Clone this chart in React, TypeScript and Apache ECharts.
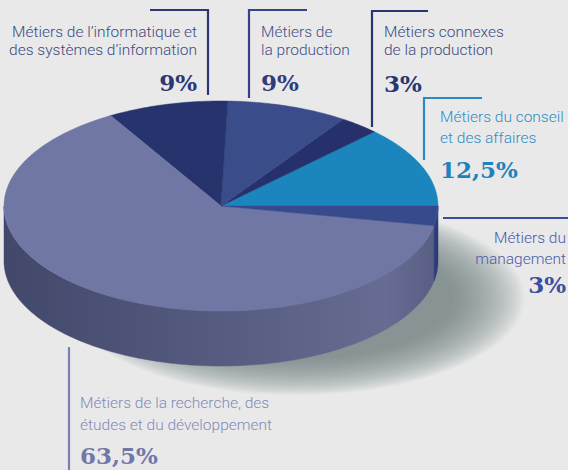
import React, { useEffect, useRef } from 'react';
import * as echarts from 'echarts';

// ---- data ----
const categories = [
  'Métiers du conseil\net des affaires',
  'Métiers connexes\nde la production',
  'Métiers de\nla production',
  'Métiers de l’informatique et\ndes systèmes d’information',
  'Métiers de la recherche, des\nétudes et du développement',
  'Métiers du\nmanagement',
];
const values = [12.5, 3, 9, 9, 63.5, 3];
const percentLabels = ['12,5%', '3%', '9%', '9%', '63,5%', '3%'];

// ---- styles ----
const topColors = ['#1b86bd', '#26316b', '#3a4c8a', '#27336d', '#7177a5', '#364a8c'];
const sideGradient = {
  type: 'linear', x: 3, y: 0, x2: 438, y2: 0, global: true,
  colorStops: [
    { offset: 0, color: '#42486a' },
    { offset: 0.5, color: '#565c80' },
    { offset: 0.88, color: '#676c92' },
    { offset: 1, color: '#585d84' },
  ],
};
const sideColors: any[] = ['#15668f', '#1d2655', '#2c3a70', '#1d2757', sideGradient, '#2c3b7a'];

const CX = 221, CY = 206, RX = 217, RY = 105, DEPTH = 55;

const labelLayout = [
  { x: 440, align: 'left', lines: [122, 143], pct: 176, color: '#2f8cc6', pctColor: '#1e83bd', bracket: [[482, 98], [424, 98], [424, 160]], lineColor: '#2a8ac4' },
  { x: 384, align: 'left', lines: [37, 55], pct: 90, color: '#3b4a82', pctColor: '#283570', bracket: [[428, 11], [372, 11], [372, 127]], lineColor: '#283570' },
  { x: 261, align: 'left', lines: [37, 55], pct: 89, color: '#3d4f8c', pctColor: '#2f3d7a', bracket: [[307, 10], [249, 10], [249, 98]], lineColor: '#34448a' },
  { x: 197, align: 'right', lines: [37, 55], pct: 89, color: '#3b4a82', pctColor: '#2b3773', bracket: [[150, 10], [208, 10], [208, 95]], lineColor: '#2b3773' },
  { x: 80, align: 'left', lines: [408, 430], pct: 462, color: '#8389b9', pctColor: '#7177a8', bracket: [[69, 347], [69, 470]], lineColor: '#7a80b3' },
  { x: 566, align: 'right', lines: [243, 264], pct: 291, color: '#4a5aa8', pctColor: '#3c4ea0', bracket: [[443, 218], [568, 218]], lineColor: '#3a4d9c' },
];

const SANS = '300 15.5px Roboto, "Liberation Sans", sans-serif';
const SERIF = 'bold 23px "DejaVu Serif", serif';

function buildGraphics() {
  const els: any[] = [];
  // soft shadow built from stacked translucent ellipses
  const RINGS = 22;
  for (let k = 0; k < RINGS; k++) {
    const t = k / (RINGS - 1);
    els.push({
      type: 'ellipse', z: 0, silent: true,
      shape: { cx: 296, cy: 298, rx: 228 - 70 * t, ry: 97 - 36 * t },
      style: { fill: 'rgba(118,124,124,0.062)' },
    });
  }
  labelLayout.forEach((l, i) => {
    els.push({
      type: 'polyline', z: 5, silent: true,
      shape: { points: l.bracket },
      style: { stroke: l.lineColor, lineWidth: 2.2, fill: null },
    });
    categories[i].split('\n').forEach((line, k) => {
      els.push({
        type: 'text', z: 5, silent: true,
        style: {
          text: line, x: l.x, y: l.lines[k] - 5.5,
          align: l.align, verticalAlign: 'middle',
          font: SANS, fill: l.color,
        },
      });
    });
    els.push({
      type: 'text', z: 5, silent: true,
      style: {
        text: percentLabels[i], x: l.x, y: l.pct - 7,
        align: l.align, verticalAlign: 'middle',
        font: SERIF, fill: l.pctColor,
      },
    });
  });
  return els;
}

export default function App() {
  const ref = useRef<HTMLDivElement>(null);
  useEffect(() => {
    if (!ref.current) return;
    const chart = echarts.init(ref.current, undefined, { renderer: 'svg' });
    const total = values.reduce((a, b) => a + b, 0);
    const pt = (deg: number, dy: number) => [
      CX + RX * Math.cos((deg * Math.PI) / 180),
      CY - RY * Math.sin((deg * Math.PI) / 180) + dy,
    ];
    const arc = (s: number, e: number, dy: number) => {
      const n = Math.max(2, Math.ceil(e - s));
      const pts: number[][] = [];
      for (let k = 0; k <= n; k++) pts.push(pt(s + ((e - s) * k) / n, dy));
      return pts;
    };
    chart.setOption({
      animation: false,
      backgroundColor: '#e9e9e9',
      graphic: buildGraphics(),
      series: [
        {
          type: 'custom',
          coordinateSystem: 'none',
          z: 2,
          silent: true,
          data: values.map((v, i) => ({ value: v, name: categories[i] })),
          renderItem: (params: any, api: any) => {
            const i = params.dataIndex;
            let start = 0;
            for (let k = 0; k < i; k++) start += values[k];
            const v = api.value(0);
            const a0 = (start / total) * 360;
            const a1 = ((start + v) / total) * 360;
            const children: any[] = [];
            const s = Math.max(a0, 180), e = Math.min(a1, 360);
            if (e > s) {
              const top = arc(s, e, 0);
              const bottom = arc(s, e, DEPTH).reverse();
              children.push({
                type: 'polygon',
                shape: { points: top.concat(bottom) },
                style: { fill: sideColors[i], stroke: sideColors[i], lineWidth: 0.5 },
              });
            }
            children.push({
              type: 'polygon',
              shape: { points: [[CX, CY], ...arc(a0, a1, 0)] },
              style: { fill: topColors[i], stroke: topColors[i], lineWidth: 0.5 },
            });
            return { type: 'group', children };
          },
        },
      ],
    });
    return () => chart.dispose();
  }, []);
  return (
    <div
      ref={ref}
      style={{ position: 'fixed', left: 0, top: 0, width: 568, height: 470, background: '#e9e9e9' }}
    />
  );
}
